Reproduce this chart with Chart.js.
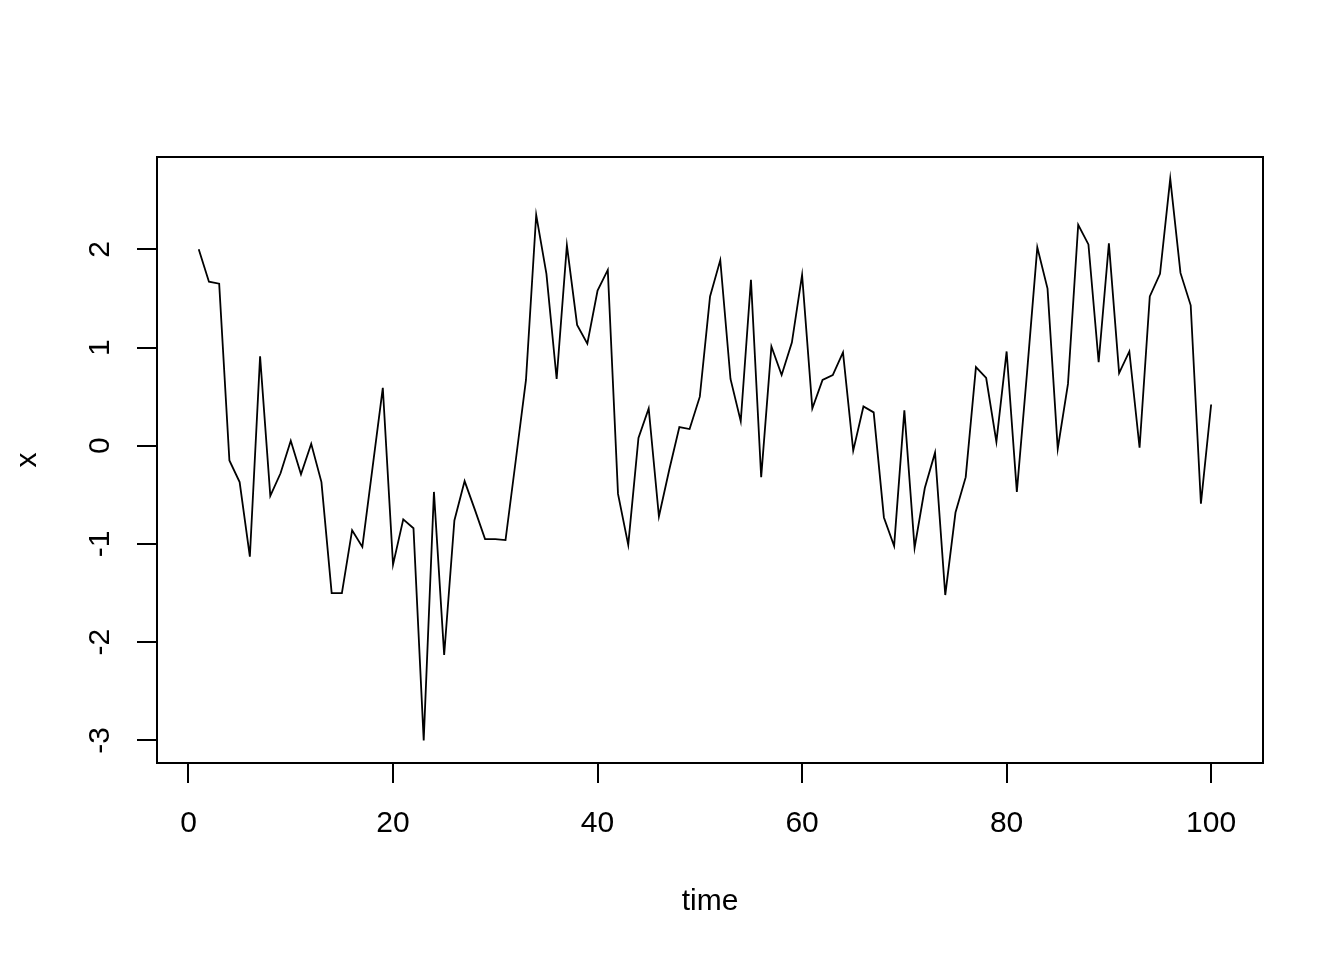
<!DOCTYPE html>
<html>
<head>
<meta charset="utf-8">
<title>x vs time</title>
<script src="https://cdn.jsdelivr.net/npm/chart.js@4.4.1/dist/chart.umd.min.js"></script>
<style>
    body { margin: 0; background: #ffffff; }
    #wrap { width: 1344px; height: 960px; }
</style>
</head>
<body>
<div id="wrap"><canvas id="tsChart" width="1344" height="960"></canvas></div>
<script>
// series (time 1..100)
const time = Array.from({ length: 100 }, (_, i) => i + 1);
const xValues = [
    2.00, 1.67, 1.65, -0.15, -0.37, -1.13, 0.91, -0.51, -0.28, 0.05,
    -0.29, 0.02, -0.37, -1.50, -1.50, -0.86, -1.03, -0.22, 0.59, -1.21,
    -0.75, -0.84, -3.00, -0.47, -2.13, -0.76, -0.36, -0.65, -0.95, -0.95,
    -0.96, -0.15, 0.67, 2.35, 1.75, 0.68, 2.04, 1.23, 1.04, 1.58,
    1.79, -0.49, -1.01, 0.08, 0.38, -0.72, -0.25, 0.19, 0.17, 0.50,
    1.52, 1.89, 0.68, 0.25, 1.69, -0.32, 1.01, 0.72, 1.05, 1.74,
    0.38, 0.67, 0.72, 0.95, -0.05, 0.40, 0.34, -0.73, -1.02, 0.36,
    -1.04, -0.43, -0.07, -1.52, -0.68, -0.32, 0.80, 0.69, 0.04, 0.96,
    -0.47, 0.75, 2.02, 1.60, -0.03, 0.63, 2.25, 2.05, 0.85, 2.06,
    0.74, 0.96, -0.02, 1.52, 1.75, 2.72, 1.76, 1.43, -0.59, 0.42
];

// axis ticks
const xTicks = [0, 20, 40, 60, 80, 100];
const yTicks = [-3, -2, -1, 0, 1, 2];

Chart.defaults.font.family = '"Liberation Sans", Arial, sans-serif';
Chart.defaults.font.size = 30;
Chart.defaults.color = '#000000';

// draws the closed box round the plot region (like R's box())
const boxPlugin = {
    id: 'boxPlugin',
    afterDraw(chart) {
        const a = chart.chartArea;
        const ctx = chart.ctx;
        ctx.save();
        ctx.strokeStyle = '#000000';
        ctx.lineWidth = 2;
        ctx.strokeRect(a.left, a.top, a.right - a.left, a.bottom - a.top);
        ctx.restore();
    }
};

const ctx = document.getElementById('tsChart').getContext('2d');
new Chart(ctx, {
    type: 'line',
    data: {
        datasets: [{
            label: 'x',
            data: time.map((t, i) => ({ x: t, y: xValues[i] })),
            borderColor: '#000000',
            borderWidth: 1.8,
            pointRadius: 0,
            tension: 0,
            fill: false
        }]
    },
    options: {
        responsive: false,
        animation: false,
        layout: { padding: { top: 157, right: 81, left: 0, bottom: 0 } },
        plugins: {
            legend: { display: false },
            tooltip: { enabled: false }
        },
        scales: {
            x: {
                type: 'linear',
                min: -3.08,
                max: 105.07,
                afterBuildTicks: scale => { scale.ticks = xTicks.map(v => ({ value: v })); },
                afterFit: scale => { scale.height = 197; },
                ticks: {
                    padding: 23,
                    maxRotation: 0,
                    callback: v => String(v)
                },
                grid: { drawOnChartArea: false, drawTicks: true, tickLength: 20, color: '#000000', lineWidth: 2 },
                border: { display: true, color: '#000000', width: 2 },
                title: { display: true, text: 'time', padding: { top: 0, bottom: 40 } }
            },
            y: {
                type: 'linear',
                min: -3.23,
                max: 2.94,
                afterBuildTicks: scale => { scale.ticks = yTicks.map(v => ({ value: v })); },
                afterFit: scale => { scale.width = 157; },
                ticks: {
                    padding: 23,
                    minRotation: 90,
                    maxRotation: 90,
                    crossAlign: 'center',
                    callback: v => String(v)
                },
                grid: { drawOnChartArea: false, drawTicks: true, tickLength: 20, color: '#000000', lineWidth: 2 },
                border: { display: true, color: '#000000', width: 2 },
                title: { display: true, text: 'x', padding: { top: 10, bottom: 0 } }
            }
        }
    },
    plugins: [boxPlugin]
});
</script>
</body>
</html>
